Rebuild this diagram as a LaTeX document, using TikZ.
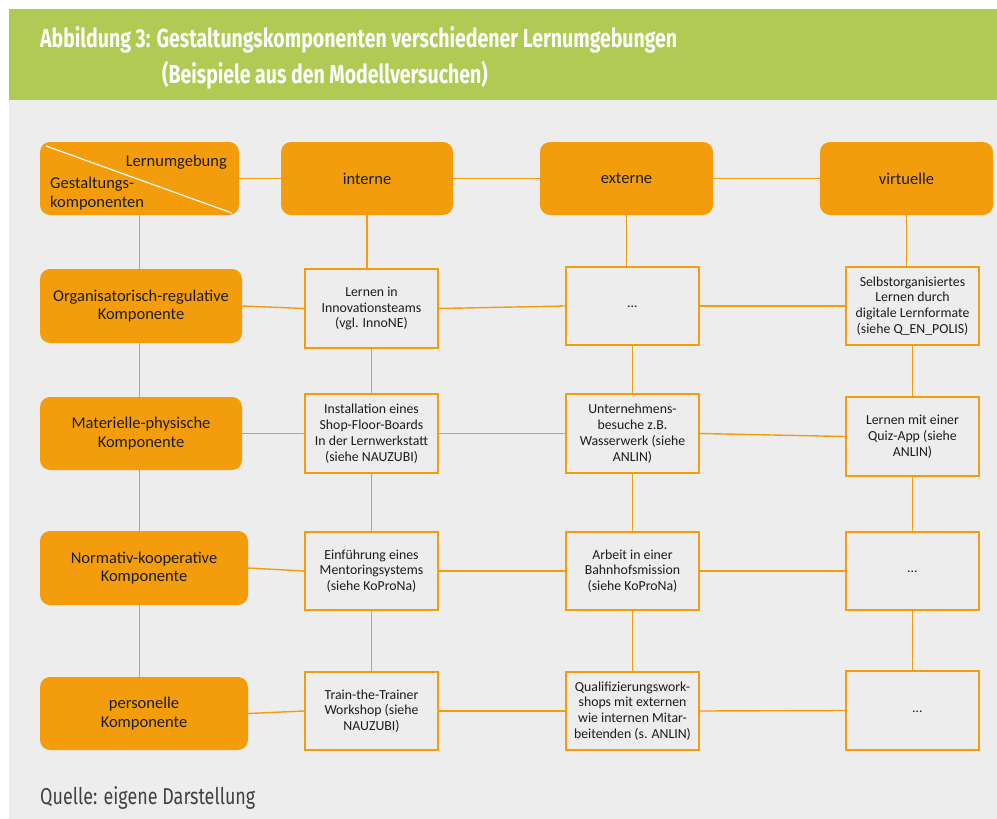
\documentclass[tikz,border=0pt]{standalone}
\usepackage{fontspec}
\setmainfont{Carlito}
\newfontfamily\titlefont[FakeStretch=0.75]{Fira Sans}
\newfontfamily\sourcefont[FakeStretch=0.78]{Fira Sans}
\definecolor{bandgreen}{RGB}{175,203,84}
\definecolor{panelgray}{RGB}{237,237,237}
\definecolor{boxorange}{RGB}{244,157,12}
\definecolor{inkdark}{RGB}{28,28,28}
\definecolor{sourcegray}{RGB}{65,65,65}
\pgfdeclarelayer{backdrop}
\pgfdeclarelayer{links}
\pgfsetlayers{backdrop,links,main}
\tikzset{
  headbox/.style={fill=boxorange, rounded corners=10pt, inner sep=0pt, align=center,
    text=inkdark, font=\fontsize{16.5}{18.5}\selectfont},
  examplebox/.style={draw=boxorange, line width=1.8pt, fill=panelgray, inner sep=0pt,
    minimum width=133pt, align=center, text=inkdark, font=\fontsize{13.8}{15.8}\selectfont},
  cornerlabel/.style={inner sep=0pt, text=inkdark, font=\fontsize{16.5}{18}\selectfont},
  link/.style={draw=boxorange, line width=1.4pt},
}
\begin{document}
\begin{tikzpicture}[x=1pt, y=-1pt]
\useasboundingbox (0,0) rectangle (997,819);
% backgrounds
\begin{pgfonlayer}{backdrop}
\fill[white] (0,0) rectangle (997,819);
\fill[panelgray] (9,100) rectangle (997,819);
\fill[bandgreen] (9,9) rectangle (997,100);
\end{pgfonlayer}
% title
\node[anchor=base west, inner sep=0pt, text=white, font=\titlefont\bfseries\fontsize{26}{30}\selectfont]
  (title1) at (40,47) {Abbildung 3: Gestaltungskomponenten verschiedener Lernumgebungen};
\node[anchor=base west, inner sep=0pt, text=white, font=\titlefont\bfseries\fontsize{26}{30}\selectfont]
  (title2) at (162,83) {(Beispiele aus den Modellversuchen)};

% header row
\node[headbox, minimum width=199pt, minimum height=73pt] (corner) at (139.5,178.5) {};
\draw[white, line width=1.2pt] (46,146) -- (232,213);
\node[cornerlabel, anchor=base east] (cornerA) at (227,166) {Lernumgebung};
\node[cornerlabel, anchor=base west] (cornerB) at (50,188) {Gestaltungs-};
\node[cornerlabel, anchor=base west] (cornerC) at (50,207) {komponenten};
\node[headbox, minimum width=172pt, minimum height=73pt] (intern) at (367,178.5) {interne};
\node[headbox, minimum width=173pt, minimum height=73pt] (extern) at (626.5,178.5) {externe};
\node[headbox, minimum width=173pt, minimum height=73pt] (virtuell) at (906.5,178.5) {virtuelle};

% component column
\node[headbox, minimum width=202pt, minimum height=74pt] (org) at (141,306) {Organisatorisch-regulative\\Komponente};
\node[headbox, minimum width=202pt, minimum height=73pt] (mat) at (141,433.5) {Materielle-physische\\Komponente};
\node[headbox, minimum width=208pt, minimum height=74pt] (norm) at (144,568) {Normativ-kooperative\\Komponente};
\node[headbox, minimum width=208pt, minimum height=73pt] (pers) at (144,713.5) {personelle\\Komponente};

% internal learning environments
\node[examplebox, minimum height=79pt] (i1) at (371.5,308.5) {Lernen in\\Innovationsteams\\(vgl. InnoNE)};
\node[examplebox, minimum height=79pt] (i2) at (371.5,433.5) {Installation eines\\Shop-Floor-Boards\\In der Lernwerkstatt\\(siehe NAUZUBI)};
\node[examplebox, minimum height=78pt] (i3) at (371.5,571) {Einführung eines\\Mentoringsystems\\(siehe KoProNa)};
\node[examplebox, minimum height=78pt] (i4) at (371.5,711) {Train-the-Trainer\\Workshop (siehe\\NAUZUBI)};

% external learning environments
\node[examplebox, minimum height=78pt] (e1) at (632.5,306) {\raisebox{-4pt}{\dots}};
\node[examplebox, minimum height=79pt] (e2) at (632.5,433.5) {Unternehmens-\\besuche z.B.\\Wasserwerk (siehe\\ANLIN)};
\node[examplebox, minimum height=78pt] (e3) at (632.5,571) {Arbeit in einer\\Bahnhofsmission\\(siehe KoProNa)};
\node[examplebox, minimum height=78pt] (e4) at (632.5,711) {Qualifizierungswork-\\shops mit externen\\wie internen Mitar-\\beitenden (s. ANLIN)};

% virtual learning environments
\node[examplebox, minimum height=78pt] (v1) at (912.5,306) {Selbstorganisiertes\\Lernen durch\\digitale Lernformate\\(siehe Q\_EN\_POLIS)};
\node[examplebox, minimum height=79pt] (v2) at (912.5,436.5) {Lernen mit einer\\Quiz-App (siehe\\ANLIN)};
\node[examplebox, minimum height=78pt] (v3) at (912.5,571) {\raisebox{-4pt}{\dots}};
\node[examplebox, minimum height=79pt] (v4) at (912.5,710.5) {\hspace{10pt}\raisebox{-5pt}{\dots}};

% connectors, kept beneath the boxes
\begin{pgfonlayer}{links}
\foreach \a/\b in {corner/intern, intern/extern, extern/virtuell,
                   org/i1, i1/e1, e1/v1,
                   mat/i2, i2/e2, e2/v2,
                   norm/i3, i3/e3, e3/v3,
                   pers/i4, i4/e4, e4/v4}
  \draw[link] (\a.east) -- (\b.west);
% the component column runs as one straight line
\draw[link] (corner.south) -- (corner.south |- pers.north);
\foreach \a/\b in {intern/i1, i1/i2, i2/i3, i3/i4,
                   extern/e1, e1/e2, e2/e3, e3/e4,
                   virtuell/v1, v1/v2, v2/v3, v3/v4}
  \draw[link] (\a.south) -- (\a.south |- \b.north);
\end{pgfonlayer}

% source line
\node[anchor=base west, inner sep=0pt, text=sourcegray, font=\sourcefont\fontsize{23}{26}\selectfont]
  (source) at (40,804) {Quelle: eigene Darstellung};
\end{tikzpicture}
\end{document}
